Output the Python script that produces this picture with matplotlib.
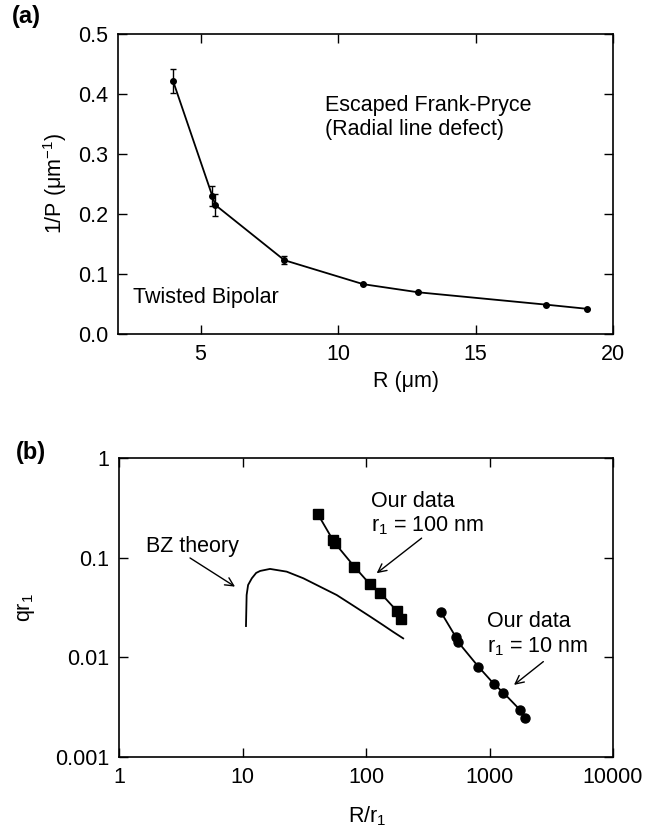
import matplotlib
matplotlib.use("Agg")
import matplotlib.pyplot as plt

plt.rcParams['font.family'] = ['Liberation Sans', 'DejaVu Sans']
plt.rcParams['mathtext.fontset'] = 'custom'
plt.rcParams['mathtext.rm'] = 'Liberation Sans'
plt.rcParams['mathtext.it'] = 'Liberation Sans:italic'

# ---- Panel (a) data ----
R_um = [4.0, 5.43, 5.54, 8.05, 10.92, 12.92, 17.55, 19.05]
invP = [0.422, 0.230, 0.215, 0.123, 0.083, 0.0695, 0.049, 0.042]
invP_err = [0.020, 0.016, 0.018, 0.007, 0.0, 0.0, 0.0, 0.0]

# ---- Panel (b) data ----
x_100nm = [40.5, 54, 56, 80.4, 108, 130, 177, 191]
q_100nm = [0.277, 0.150, 0.140, 0.0813, 0.0539, 0.0446, 0.0294, 0.0244]

x_10nm = [405, 535, 553, 812, 1087, 1294, 1766, 1938]
q_10nm = [0.0283, 0.0159, 0.0144, 0.00807, 0.0054, 0.00443, 0.00297, 0.00248]

x_bz = [10.67, 10.8, 11.1, 11.9, 12.9, 13.9, 16.7, 22.8, 31.1, 42.4, 57.9, 78.9, 107.8, 138, 166, 200]
q_bz = [0.0206, 0.0422, 0.0532, 0.0621, 0.0703, 0.0736, 0.0771, 0.0724, 0.0621, 0.0512,
        0.0422, 0.0330, 0.0257, 0.0210, 0.0180, 0.0155]

W, H = 659, 833
fig = plt.figure(figsize=(W / 100, H / 100), dpi=100)

def fx(px):
    return px / W

def fy(py):
    return 1 - py / H

FS = 15.5

def style(ax):
    ax.tick_params(direction='in', which='both', top=True, right=True,
                   labelsize=FS, length=6.5, width=1.0, pad=7)
    ax.tick_params(which='minor', length=0)
    for s in ax.spines.values():
        s.set_linewidth(1.2)

# ---- (a) ----
axa = fig.add_axes([fx(118), fy(334), fx(613) - fx(118), (334 - 34) / H])
axa.errorbar(R_um, invP, yerr=invP_err, color='black', marker='o', markersize=4,
             lw=1.3, capsize=2.5, elinewidth=1.0, capthick=1.0)
axa.set_xlim(2, 20)
axa.set_ylim(0, 0.5)
axa.set_xticks([5, 10, 15, 20])
axa.set_yticks([0.0, 0.1, 0.2, 0.3, 0.4, 0.5])
axa.set_yticklabels(['0.0', '0.1', '0.2', '0.3', '0.4', '0.5'])
style(axa)
axa.text(9.52, 0.38, 'Escaped Frank-Pryce', fontsize=FS, va='center', ha='left')
axa.text(9.52, 0.34, '(Radial line defect)', fontsize=FS, va='center', ha='left')
axa.text(2.55, 0.0605, 'Twisted Bipolar', fontsize=FS, va='center', ha='left')

fig.text(fx(55), fy(183), '1/P (μm$^{\\mathregular{-1}}$)', rotation=90,
         fontsize=FS, ha='center', va='center')
fig.text(fx(406), fy(381), 'R (μm)', fontsize=FS, ha='center', va='center')
fig.text(fx(12), fy(17), '(a)', fontsize=17, fontweight='bold', ha='left', va='center')

# ---- (b) ----
axb = fig.add_axes([fx(119), fy(757), fx(613) - fx(119), (757 - 458) / H])
axb.set_xscale('log')
axb.set_yscale('log')
axb.plot(x_bz, q_bz, color='black', lw=1.3)
axb.plot(x_100nm, q_100nm, color='black', marker='s', markersize=6.5, lw=1.3)
axb.plot(x_10nm, q_10nm, color='black', marker='o', markersize=6.5, lw=1.3)
axb.set_xlim(1, 10000)
axb.set_ylim(0.001, 1)
axb.set_xticks([1, 10, 100, 1000, 10000])
axb.set_xticklabels(['1', '10', '100', '1000', '10000'])
axb.set_yticks([0.001, 0.01, 0.1, 1])
axb.set_yticklabels(['0.001', '0.01', '0.1', '1'])
axb.minorticks_off()
style(axb)

arrow = dict(arrowstyle='->,head_length=0.6,head_width=0.3', color='black', lw=1.0,
             shrinkA=0, shrinkB=0)
axb.text(1.65, 0.129, 'BZ theory', fontsize=FS, ha='left', va='center')
axb.annotate('', xy=(8.7, 0.0512), xytext=(3.76, 0.0993), arrowprops=arrow)

axb.text(109, 0.365, 'Our data', fontsize=FS, ha='left', va='center')
axb.text(109, 0.208, 'r$_\\mathregular{1}$ = 100 nm', fontsize=FS, ha='left', va='center')
axb.annotate('', xy=(122, 0.0698), xytext=(282, 0.157), arrowprops=arrow)

axb.text(960, 0.0228, 'Our data', fontsize=FS, ha='left', va='center')
axb.text(960, 0.0128, 'r$_\\mathregular{1}$ = 10 nm', fontsize=FS, ha='left', va='center')
axb.annotate('', xy=(1579, 0.00529), xytext=(2729, 0.00906), arrowprops=arrow)

fig.text(fx(26), fy(608), 'qr$_\\mathregular{1}$', rotation=90,
         fontsize=FS, ha='center', va='center')
fig.text(fx(367), fy(816), 'R/r$_\\mathregular{1}$', fontsize=FS, ha='center', va='center')
fig.text(fx(16), fy(452), '(b)', fontsize=17, fontweight='bold', ha='left', va='center')

fig.savefig('out.png', dpi=100)
